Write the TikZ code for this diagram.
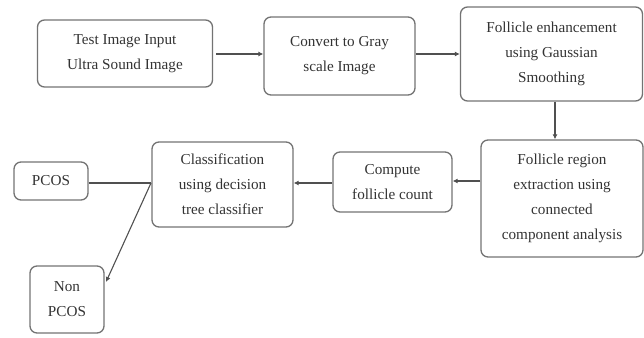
\documentclass[tikz,border=0pt]{standalone}
\usepackage{fontspec}
\setmainfont{Liberation Serif}
\usetikzlibrary{arrows.meta}
\definecolor{boxline}{gray}{0.45}
\definecolor{txt}{gray}{0.2}
\tikzset{
  box/.style={draw=boxline, line width=1.3pt, rounded corners=7pt, align=center,
    text=txt, font=\fontsize{15.2}{25}\selectfont, inner sep=0pt},
  conn/.style={draw=boxline!70!black, line width=1.1pt, -{Latex[length=5pt,width=5pt]}},
  plain/.style={draw=boxline!70!black, line width=1.1pt}
}
\begin{document}
\begin{tikzpicture}[x=1pt,y=-1pt]
\useasboundingbox (0,0) rectangle (644,337);
\node[box, minimum width=175pt, minimum height=67pt] (b1) at (125,53.5) {Test Image Input\\Ultra Sound Image};
\node[box, minimum width=151pt, minimum height=78pt] (b2) at (339.5,56) {Convert to Gray\\scale Image};
\node[box, minimum width=182pt, minimum height=94pt] (b3) at (551.5,54) {Follicle enhancement\\using Gaussian\\Smoothing};
\node[box, minimum width=162pt, minimum height=117pt] (b4) at (562,198.5) {Follicle region\\extraction using\\connected\\component analysis};
\node[box, minimum width=119pt, minimum height=60pt] (b5) at (392.5,182) {Compute\\follicle count};
\node[box, minimum width=141pt, minimum height=85pt] (b6) at (222.5,184.5) {Classification\\using decision\\tree classifier};
\node[box, minimum width=74pt, minimum height=38pt] (pcos) at (51,181) {PCOS};
\node[box, minimum width=74pt, minimum height=67pt] (np) at (67,299.5) {Non\\PCOS};
\coordinate (j) at (151,183);
\coordinate (npin) at (106,282);
\draw[conn] ([xshift=3pt]b1.east |- 0,54) -- (b2.west |- 0,54);
\draw[conn] (b2.east |- 0,54) -- (b3.west |- 0,54);
\draw[conn] (b3.south -| 555,0) -- (b4.north -| 555,0);
\draw[conn] (b4.west |- 0,181) -- (b5.east |- 0,181);
\draw[conn] (b5.west |- 0,183) -- (b6.east |- 0,183);
\draw[plain] (pcos.east |- 0,183) -- (j);
\draw[conn] (j) -- (npin);
\end{tikzpicture}
\end{document}
